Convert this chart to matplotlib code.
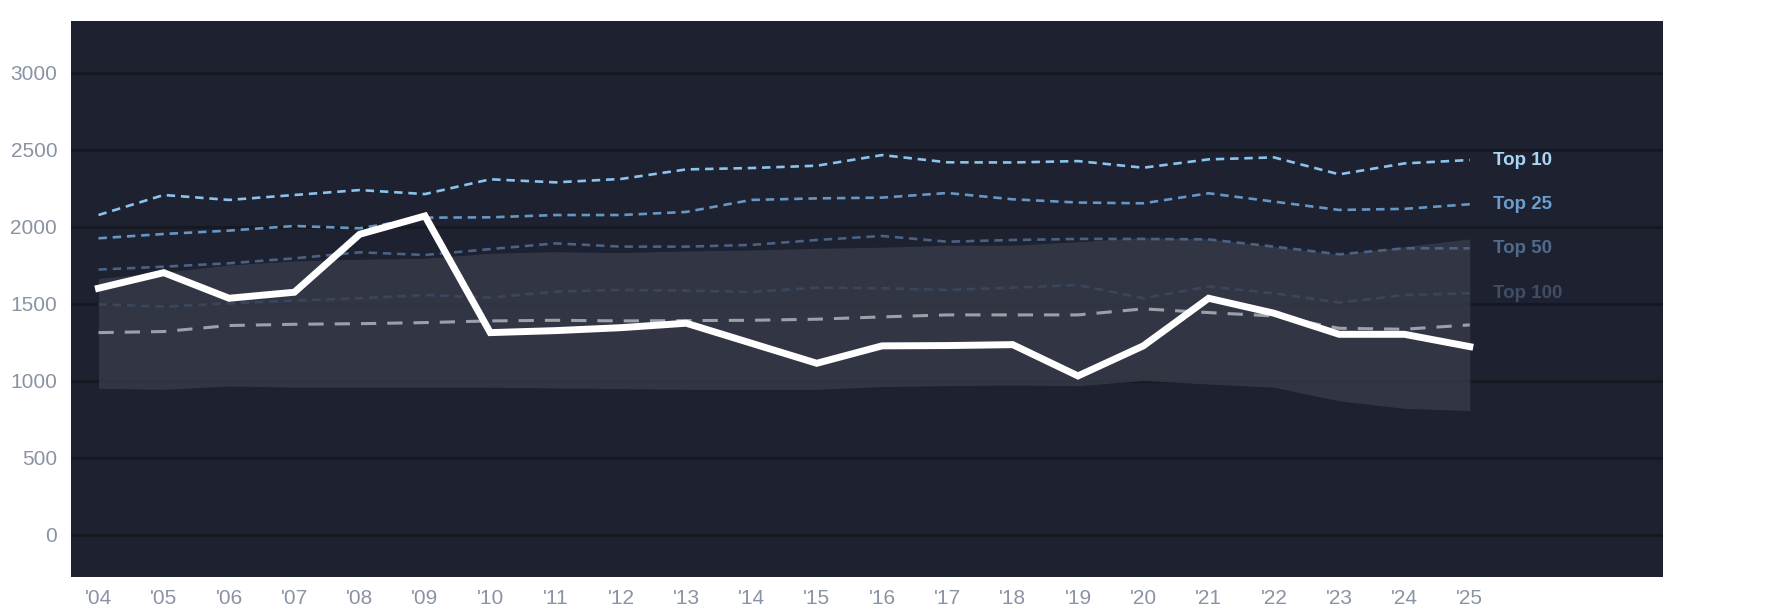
import numpy as np
import matplotlib
matplotlib.use("Agg")
import matplotlib.pyplot as plt

plt.rcParams['font.family'] = ['Liberation Sans', 'DejaVu Sans']

years = list(range(2004, 2026))
year_labels = ["'" + str(y)[2:] for y in years]

top10 = [2076, 2206, 2174, 2206, 2238, 2212, 2308, 2288, 2310, 2372, 2381,
         2396, 2465, 2418, 2417, 2426, 2383, 2437, 2450, 2340, 2411, 2433]
top25 = [1925, 1953, 1975, 2005, 1990, 2059, 2061, 2076, 2076, 2096, 2174,
         2184, 2189, 2219, 2178, 2157, 2152, 2217, 2163, 2109, 2116, 2146]
top50 = [1722, 1741, 1763, 1795, 1834, 1817, 1855, 1892, 1871, 1871, 1882,
         1914, 1940, 1903, 1914, 1921, 1921, 1918, 1871, 1821, 1860, 1860]
top100 = [1497, 1482, 1503, 1521, 1536, 1557, 1540, 1579, 1590, 1585, 1577,
          1605, 1601, 1590, 1605, 1622, 1536, 1612, 1568, 1508, 1557, 1568]
median = [1313, 1320, 1359, 1367, 1371, 1378, 1389, 1393, 1389, 1391, 1393,
          1400, 1415, 1428, 1428, 1428, 1467, 1443, 1421, 1341, 1335, 1363]
band_high = [1665, 1704, 1752, 1778, 1789, 1795, 1828, 1838, 1832, 1843, 1849,
             1860, 1867, 1880, 1880, 1903, 1929, 1921, 1871, 1821, 1871, 1921]
band_low = [952, 945, 967, 959, 959, 959, 959, 954, 950, 945, 945,
            945, 963, 969, 973, 969, 1002, 980, 959, 870, 822, 807]
player = [1601, 1702, 1536, 1575, 1951, 2070, 1313, 1326, 1345, 1374, 1244,
          1114, 1227, 1229, 1235, 1032, 1227, 1536, 1439, 1302, 1302, 1222]

tiers = [("Top 10", top10, "#8cc3ec", "#a9d5f6"),
         ("Top 25", top25, "#6797c4", "#6d9dca"),
         ("Top 50", top50, "#4b6283", "#516a8b"),
         ("Top 100", top100, "#3a465d", "#414c65")]

bg = "#1d2130"
grid_color = "#161922"
tick_color = "#8a93a4"

fig = plt.figure(figsize=(17.85, 6.14), dpi=100, facecolor="white")
ax = fig.add_axes([0.0398, 0.0607, 0.8919, 0.9056])
ax.set_facecolor(bg)

ax.set_yticks([0, 500, 1000, 1500, 2000, 2500, 3000])
ax.yaxis.grid(True, color=grid_color, linewidth=2.2, zorder=0.5)
ax.set_axisbelow(True)

# band, slightly see-through so the grid shows faintly
ax.fill_between(years, band_low, band_high, color="#3b3f4d", alpha=0.72,
                linewidth=0, zorder=1)

for name, vals, line_c, text_c in tiers:
    ax.plot(years, vals, color=line_c, linewidth=1.9,
            linestyle=(0, (3.2, 2.2)), zorder=2)
    ax.annotate(name, (years[-1], vals[-1]), xytext=(17, 0),
                textcoords="offset points", va="center", ha="left",
                color=text_c, fontsize=13.5, fontweight="bold")

ax.plot(years, median, color="#9ba1ab", linewidth=2.2,
        linestyle=(0, (5, 3.6)), zorder=3)
ax.plot(years, player, color="white", linewidth=5, zorder=4,
        solid_joinstyle="miter")

ax.set_xlim(2003.58, 2027.96)
ax.set_ylim(-271, 3337)
ax.set_xticks(years)
ax.set_xticklabels(year_labels)
ax.tick_params(axis="both", length=0, labelsize=15, colors=tick_color)
ax.tick_params(axis="y", pad=10)
ax.tick_params(axis="x", pad=9)
for s in ax.spines.values():
    s.set_visible(False)

fig.savefig("out.png", dpi=100, facecolor="white")
